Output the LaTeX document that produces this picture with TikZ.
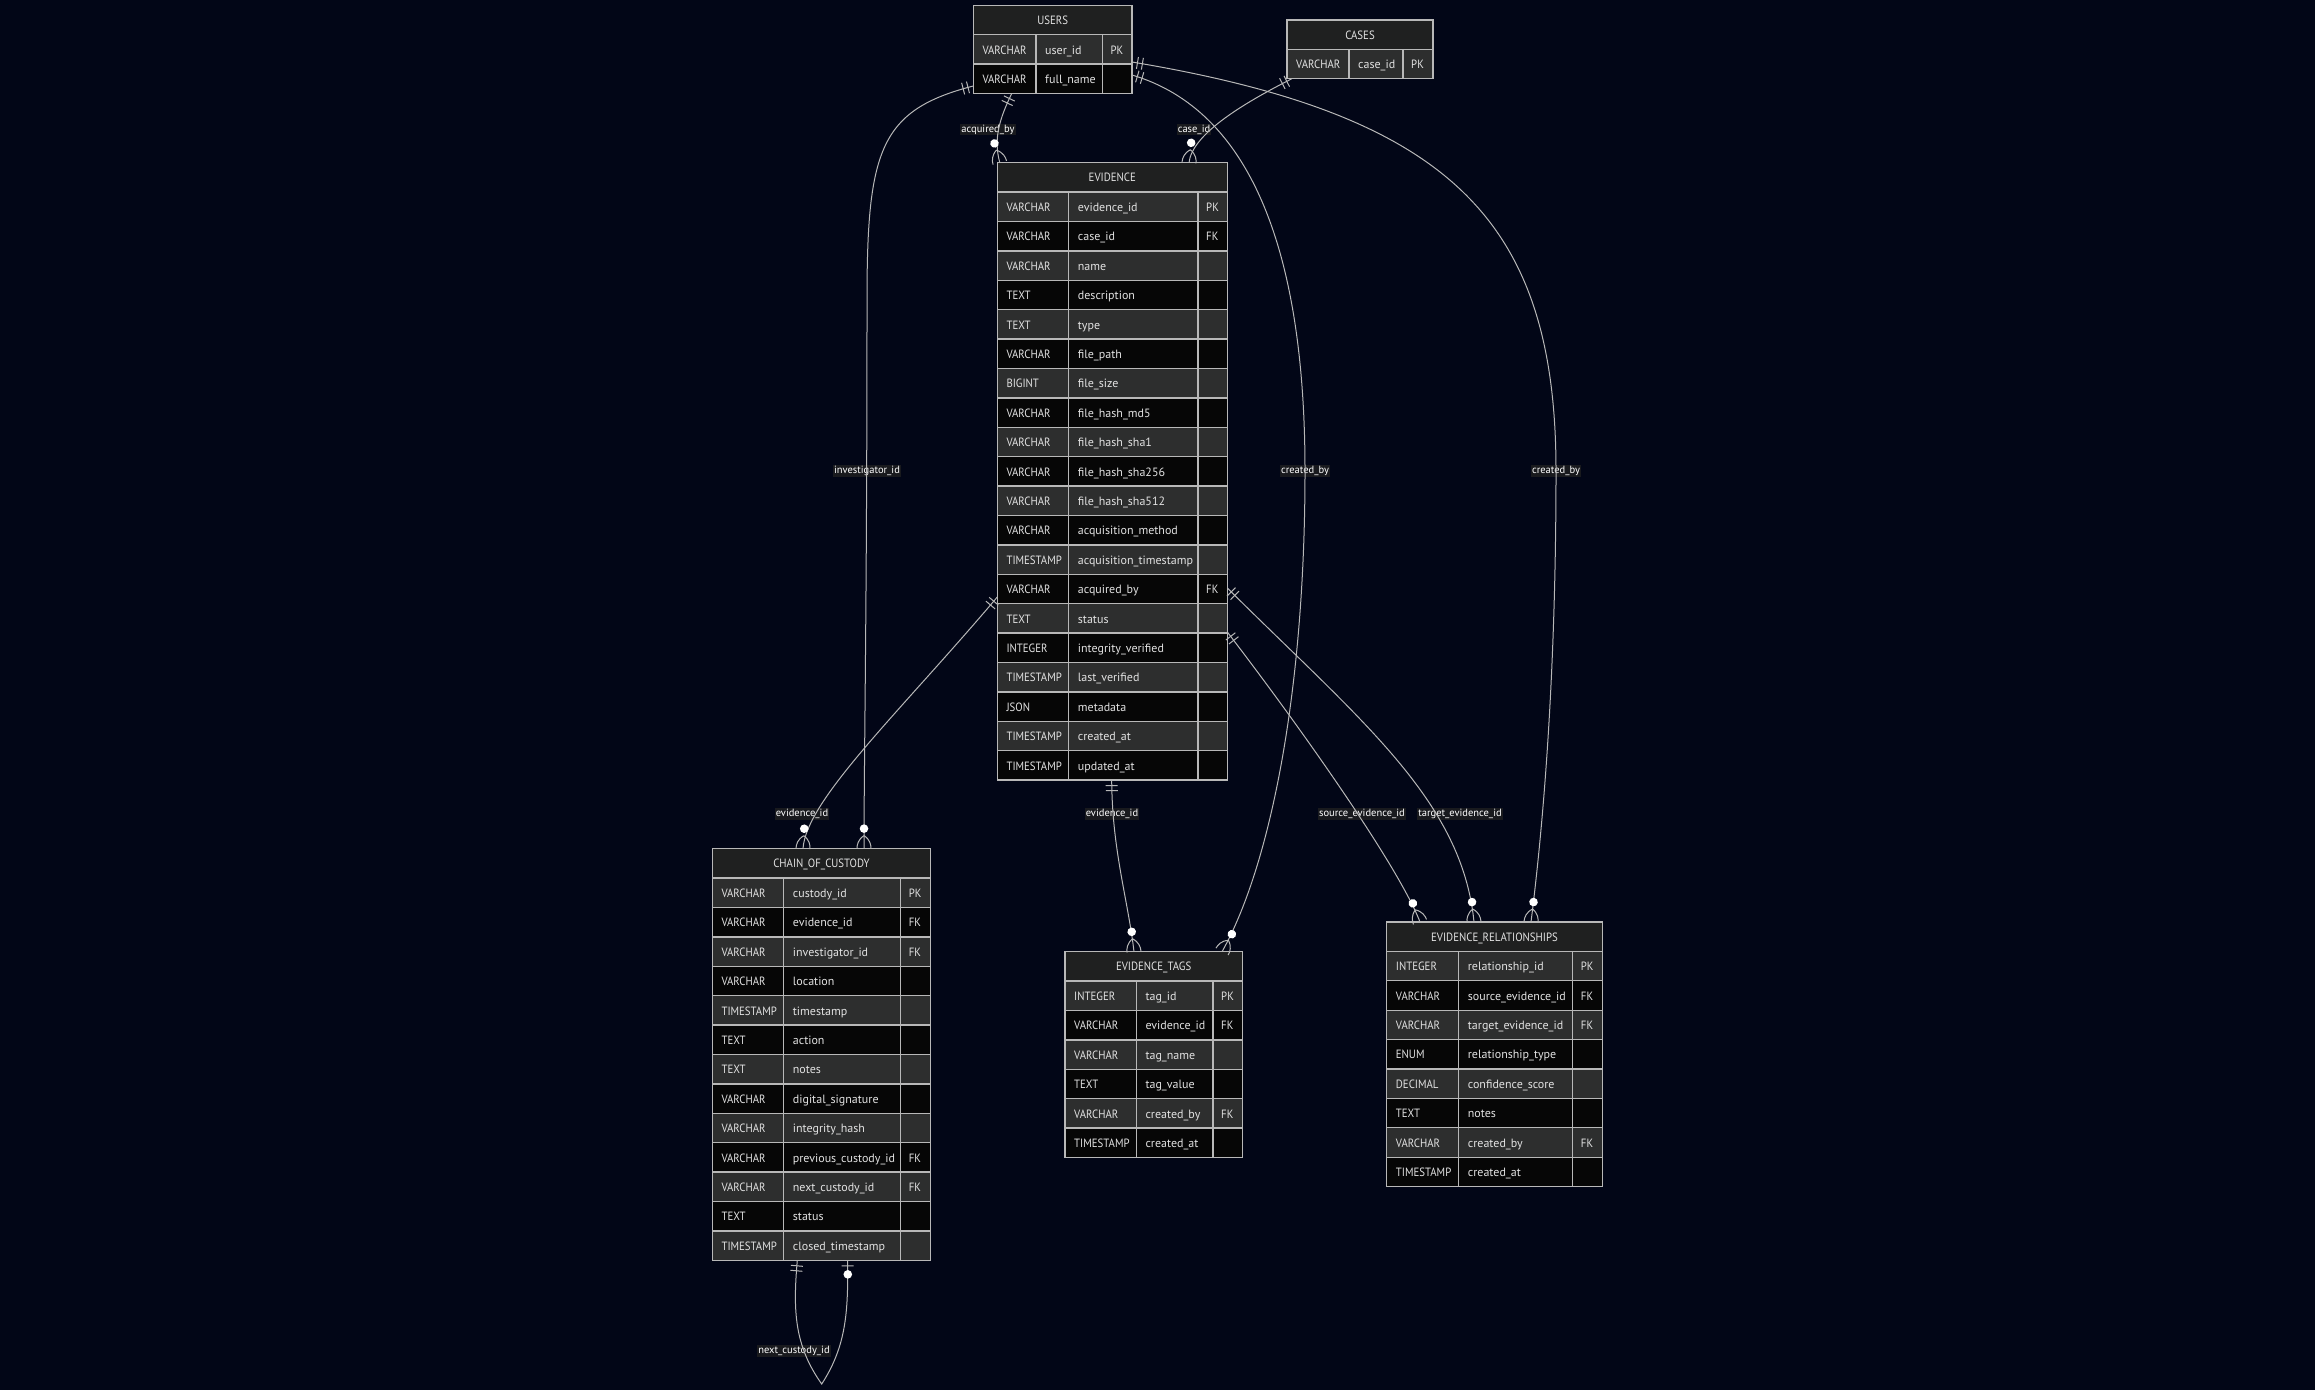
\documentclass[tikz,border=0pt]{standalone}
\usepackage{fontspec}
\setmainfont{PT Sans}
\newfontfamily\capsfont{PT Sans}[FakeStretch=0.9]
\usetikzlibrary{calc,decorations.markings}

\definecolor{canvas}{HTML}{020617}
\definecolor{hdrfill}{HTML}{1F2020}
\definecolor{rowodd}{HTML}{2D2E2E}
\definecolor{roweven}{HTML}{060606}
\definecolor{gridline}{HTML}{B8B8B8}
\definecolor{inkcol}{HTML}{E2E2E2}
\definecolor{wirecol}{HTML}{B8B8B8}
\definecolor{tagbg}{HTML}{1F2020}

\tikzset{
  cellrule/.style={draw=gridline, line width=1.3pt},
  celltext/.style={text=inkcol, font=\fontsize{12}{14}\selectfont, anchor=base west, inner sep=0pt},
  captext/.style={text=inkcol, font=\capsfont\fontsize{12}{14}\selectfont, anchor=base west, inner sep=0pt},
  titletext/.style={text=inkcol, font=\capsfont\fontsize{12}{14}\selectfont, anchor=base, inner sep=0pt},
  relname/.style={fill=tagbg, fill opacity=0.8, text opacity=1, text=white,
    font=\fontsize{10.5}{12}\selectfont, inner xsep=1.2pt, inner ysep=1pt},
  wire/.style={draw=wirecol, line width=1pt},
  startone/.style={postaction={decorate,decoration={markings,
    mark=at position 0 with {\draw[wirecol,line width=1pt] (5.5,-6) -- (5.5,6) (10.5,-6) -- (10.5,6);}}}},
  endmany/.style={postaction={decorate,decoration={markings,
    mark=at position 0.9999 with {\draw[wirecol,line width=1pt]
      (-13,0) .. controls (-9,6) and (-4,7) .. (0,7)
      (-13,0) .. controls (-9,-6) and (-4,-7) .. (0,-7);
      \fill[white] (-20,0) circle (4.3pt);}}}},
  endzeroone/.style={postaction={decorate,decoration={markings,
    mark=at position 0.9999 with {\draw[wirecol,line width=1pt] (-5.5,-6) -- (-5.5,6);
      \fill[white] (-14,0) circle (4.3pt);}}}},
}

% #1 node name, #2 left, #3 top, #4 type width, #5 name width, #6 key width,
% #7 number of rows, #8 title, #9 rows as type/name/key
\newcommand{\ertable}[9]{%
  \pgfmathsetmacro{\tabw}{#4+#5+#6}%
  \pgfmathsetmacro{\tabh}{29.4*(#7+1)}%
  \node[minimum width=\tabw pt, minimum height=\tabh pt, inner sep=0pt, outer sep=0pt,
        anchor=north west] (#1) at (#2,#3) {};
  \begin{scope}[shift={(#2,#3)}]
    \fill[hdrfill] (0,0) rectangle (\tabw,29.4);
    \node[titletext] (#1-title) at (\tabw/2,19) {#8};
    \foreach \ty/\nm/\ky [count=\i] in {#9} {
      \pgfmathsetmacro{\ya}{29.4*\i}
      \pgfmathsetmacro{\yb}{29.4*(\i+1)}
      \ifodd\i \def\rowcol{rowodd}\else \def\rowcol{roweven}\fi
      \fill[\rowcol] (0,\ya) rectangle (\tabw,\yb);
      \draw[cellrule] (0,\ya) rectangle (#4,\yb)
                      (#4,\ya) rectangle (#4+#5,\yb)
                      (#4+#5,\ya) rectangle (\tabw,\yb);
      \node[captext] (#1-type\i) at (9,\ya+19.3) {\ty};
      \node[celltext] (#1-name\i) at (#4+9,\ya+19.3) {\nm};
      \node[captext] (#1-key\i) at (#4+#5+8,\ya+19.3) {\ky};
    }
    \draw[cellrule] (0,0) rectangle (\tabw,\tabh);
  \end{scope}
}

\begin{document}
\begin{tikzpicture}[x=1pt,y=-1pt]
\fill[canvas] (0,0) rectangle (2315,1390);
\useasboundingbox (0,0) rectangle (2315,1390);

% entities
\ertable{users}{973.3}{5.3}{62.7}{66.3}{29.7}{2}{USERS}{
  VARCHAR/user\_id/PK, VARCHAR/full\_name/}
\ertable{cases}{1287}{20}{62}{54}{30}{1}{CASES}{
  VARCHAR/case\_id/PK}
\ertable{evidence}{997.3}{162.7}{71.4}{129.3}{29.3}{20}{EVIDENCE}{
  VARCHAR/evidence\_id/PK, VARCHAR/case\_id/FK, VARCHAR/name/, TEXT/description/,
  TEXT/type/, VARCHAR/file\_path/, BIGINT/file\_size/, VARCHAR/file\_hash\_md5/,
  VARCHAR/file\_hash\_sha1/, VARCHAR/file\_hash\_sha256/, VARCHAR/file\_hash\_sha512/,
  VARCHAR/acquisition\_method/, TIMESTAMP/acquisition\_timestamp/,
  VARCHAR/acquired\_by/FK, TEXT/status/, INTEGER/integrity\_verified/,
  TIMESTAMP/last\_verified/, JSON/metadata/, TIMESTAMP/created\_at/,
  TIMESTAMP/updated\_at/}
\ertable{coc}{712.3}{848.7}{71.4}{117}{30}{13}{CHAIN\_OF\_CUSTODY}{
  VARCHAR/custody\_id/PK, VARCHAR/evidence\_id/FK, VARCHAR/investigator\_id/FK,
  VARCHAR/location/, TIMESTAMP/timestamp/, TEXT/action/, TEXT/notes/,
  VARCHAR/digital\_signature/, VARCHAR/integrity\_hash/,
  VARCHAR/previous\_custody\_id/FK, VARCHAR/next\_custody\_id/FK,
  TEXT/status/, TIMESTAMP/closed\_timestamp/}
\ertable{tags}{1065}{951.7}{71.3}{76.7}{29.3}{6}{EVIDENCE\_TAGS}{
  INTEGER/tag\_id/PK, VARCHAR/evidence\_id/FK, VARCHAR/tag\_name/,
  TEXT/tag\_value/, VARCHAR/created\_by/FK, TIMESTAMP/created\_at/}
\ertable{rels}{1386.7}{922}{72}{114}{29.6}{8}{EVIDENCE\_RELATIONSHIPS}{
  INTEGER/relationship\_id/PK, VARCHAR/source\_evidence\_id/FK,
  VARCHAR/target\_evidence\_id/FK, ENUM/relationship\_type/,
  DECIMAL/confidence\_score/, TEXT/notes/, VARCHAR/created\_by/FK,
  TIMESTAMP/created\_at/}

% connector end points on the entity borders
\coordinate (u-acq) at ($(users.north west)+(38.4,88.2)$);
\coordinate (u-inv) at ($(users.north west)+(0,80.7)$);
\coordinate (u-tag) at ($(users.north west)+(158.7,69.7)$);
\coordinate (u-rel) at ($(users.north west)+(158.7,56.7)$);
\coordinate (c-case) at ($(cases.north west)+(4.7,58.8)$);
\coordinate (ev-acq) at ($(evidence.north west)+(2.5,0)$);
\coordinate (ev-case) at ($(evidence.north west)+(191.7,0)$);
\coordinate (ev-coc) at ($(evidence.north west)+(0,434.3)$);
\coordinate (ev-tag) at ($(evidence.north west)+(114.4,617.4)$);
\coordinate (ev-src) at ($(evidence.north west)+(230,469.3)$);
\coordinate (ev-tgt) at ($(evidence.north west)+(230,425.3)$);
\coordinate (coc-inv) at ($(coc.north west)+(151.7,0)$);
\coordinate (coc-ev) at ($(coc.north west)+(90.7,0)$);
\coordinate (coc-nxt) at ($(coc.north west)+(85,411.6)$);
\coordinate (coc-prv) at ($(coc.north west)+(135.4,411.6)$);
\coordinate (loop-tip) at (821.7,1384);
\coordinate (tag-usr) at ($(tags.north west)+(157,0)$);
\coordinate (tag-ev) at ($(tags.north west)+(69,0)$);
\coordinate (rel-usr) at ($(rels.north west)+(144.3,0)$);
\coordinate (rel-src) at ($(rels.north west)+(33.3,0)$);
\coordinate (rel-tgt) at ($(rels.north west)+(87.3,0)$);

% relationship labels
\node[relname] (l-acq) at (988,129.5) {acquired\_by};
\node[relname] (l-case) at (1194,129.5) {case\_id};
\node[relname] (l-inv) at (867,471) {investigator\_id};
\node[relname] (l-tagusr) at (1305,471) {created\_by};
\node[relname] (l-relusr) at (1556,471) {created\_by};
\node[relname] (l-cocev) at (802,814) {evidence\_id};
\node[relname] (l-tagev) at (1112,814) {evidence\_id};
\node[relname] (l-src) at (1362,814) {source\_evidence\_id};
\node[relname] (l-tgt) at (1460,814) {target\_evidence\_id};
\node[relname] (l-nxt) at (794,1351) {next\_custody\_id};

% relationships
\draw[wire,startone,endmany] (u-acq) .. controls (1000,118) and (993,138) .. (ev-acq);
\draw[wire,startone,endmany] (c-case) .. controls (1240,105) and (1192,135) .. (ev-case);
\draw[wire,startone,endmany] (u-inv) .. controls (880,110) and (867,150) .. (867,300)
  .. controls (867,600) and (864,760) .. (coc-inv);
\draw[wire,startone,endmany] (ev-coc) .. controls (900,712) and (806,800) .. (coc-ev);
\draw[wire,startone,endmany] (u-tag) .. controls (1250,110) and (1305,250) .. (1305,471)
  .. controls (1305,700) and (1268,870) .. (tag-usr);
\draw[wire,startone,endmany] (u-rel) .. controls (1450,115) and (1556,220) .. (1556,471)
  .. controls (1556,700) and (1540,850) .. (rel-usr);
\draw[wire,startone,endmany] (ev-tag) .. controls (1112,850) and (1128,900) .. (tag-ev);
\draw[wire,startone,endmany] (ev-src) .. controls (1310,740) and (1400,870) .. (rel-src);
\draw[wire,startone,endmany] (ev-tgt) .. controls (1360,720) and (1462,800) .. (rel-tgt);
\draw[wire,startone,endzeroone] (coc-nxt) .. controls (793,1310) and (794,1345) .. (loop-tip)
  .. controls (847,1345) and (848,1310) .. (coc-prv);
\end{tikzpicture}
\end{document}
